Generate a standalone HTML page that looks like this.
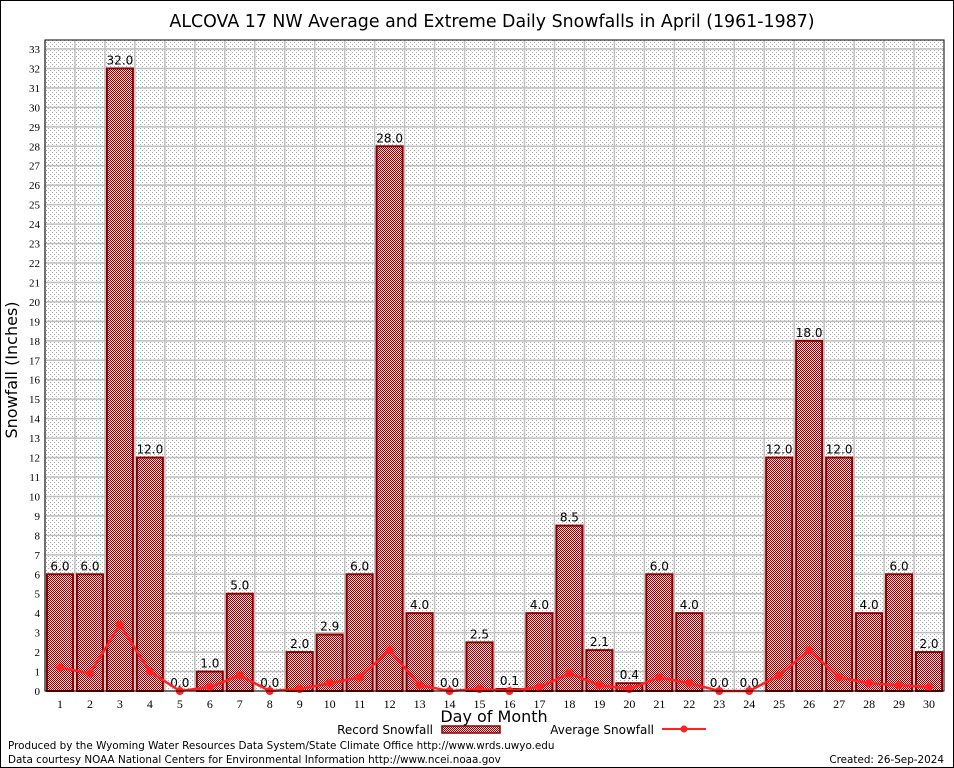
<!DOCTYPE html>
<html><head><meta charset="utf-8"><style>
body{margin:0;background:#fff;}
svg{display:block;font-family:"DejaVu Sans","Liberation Sans",sans-serif;}
</style></head><body>
<svg id="chart" width="954" height="768">
<defs>
<pattern id="hatch" width="2" height="2" patternUnits="userSpaceOnUse">
<rect width="2" height="2" fill="#f4dede"/><rect width="1" height="1" fill="#9a0000"/><rect x="1" y="1" width="1" height="1" fill="#9a0000"/>
</pattern>
<pattern id="minor" width="4" height="4" patternUnits="userSpaceOnUse">
<rect width="4" height="4" fill="#fff"/><rect width="1" height="1" fill="#aaa"/><rect x="2" y="2" width="1" height="1" fill="#aaa"/>
</pattern>
</defs>
<rect x="0.5" y="0.5" width="953" height="767" fill="none" stroke="#000"/>
<text x="492" y="27" font-size="17.4" text-anchor="middle">ALCOVA 17 NW Average and Extreme Daily Snowfalls in April (1961-1987)</text>
<g id="plot"></g>
<text transform="translate(17,370) rotate(-90)" font-size="16" text-anchor="middle">Snowfall (Inches)</text>
<text x="494" y="722" font-size="16" text-anchor="middle">Day of Month</text>
<g>
<text x="433" y="734" font-size="12" text-anchor="end">Record Snowfall</text>
<rect x="442" y="726" width="58" height="7" fill="url(#hatch)" stroke="#8b0000" stroke-width="1.5"/>
</g>
<g>
<text x="654" y="734" font-size="12" text-anchor="end">Average Snowfall</text>
<line x1="662" y1="729" x2="706" y2="729" stroke="#f22" stroke-width="2"/>
<circle cx="684" cy="729" r="3.5" fill="#f22"/>
</g>
<text x="8" y="749" font-size="10.4">Produced by the Wyoming Water Resources Data System/State Climate Office http://www.wrds.uwyo.edu</text>
<text x="8" y="763" font-size="10.4">Data courtesy NOAA National Centers for Environmental Information http://www.ncei.noaa.gov</text>
<text x="944" y="763" font-size="10.4" text-anchor="end">Created: 26-Sep-2024</text>
</svg>
<script>
const days=[1,2,3,4,5,6,7,8,9,10,11,12,13,14,15,16,17,18,19,20,21,22,23,24,25,26,27,28,29,30];
const recordValues=[6.0,6.0,32.0,12.0,0.0,1.0,5.0,0.0,2.0,2.9,6.0,28.0,4.0,0.0,2.5,0.1,4.0,8.5,2.1,0.4,6.0,4.0,0.0,0.0,12.0,18.0,12.0,4.0,6.0,2.0];
const averageValues=[1.2,0.9,3.4,1.0,0.0,0.2,0.8,0.0,0.1,0.4,0.7,2.1,0.3,0.0,0.1,0.0,0.2,0.9,0.3,0.1,0.7,0.4,0.0,0.0,0.8,2.1,0.7,0.4,0.3,0.2];
const yTicks=[0,1,2,3,4,5,6,7,8,9,10,11,12,13,14,15,16,17,18,19,20,21,22,23,24,25,26,27,28,29,30,31,32,33];
const X0=45,X1=944,Y0=691,Y1=49,YMAX=33;
const slot=(X1-X0)/days.length;
const xc=d=>X0+slot*(d-0.5);
const y=v=>Y0-(v/YMAX)*(Y0-Y1);
const NS="http://www.w3.org/2000/svg";
const g=document.getElementById('plot');
function mk(t,a,p){const e=document.createElementNS(NS,t);for(const k in a)e.setAttribute(k,a[k]);(p||g).appendChild(e);return e;}
const bg=mk('rect',{x:X0,y:40,width:X1-X0,height:Y0-40,fill:'url(#minor)'});


yTicks.forEach(t=>{
  const l=mk('line',{x1:X0,x2:X1,y1:y(t),y2:y(t),stroke:'#c0c0c0','stroke-width':1.5});
  
  
  const tx=mk('text',{x:X0-5,y:y(t)+4,'font-size':11,'text-anchor':'end','font-family':'Liberation Serif, serif'});
  tx.textContent=t;
  
  
});
days.forEach((d,i)=>{
  const gx=X0+slot*i;
  const l=mk('line',{x1:gx,x2:gx,y1:40,y2:Y0,stroke:'#c0c0c0','stroke-width':1.5});
  
  
  const tx=mk('text',{x:xc(d),y:Y0+17,'font-size':12,'text-anchor':'middle','font-family':'Liberation Serif, serif'});
  tx.textContent=d;
  
  
});
recordValues.forEach((v,i)=>{
  const d=days[i];
  if(v>0){
    const r=mk('rect',{x:xc(d)-13,y:y(v),width:26,height:Y0-y(v),fill:'url(#hatch)',stroke:'#8b0000','stroke-width':2});
    
    
  }
  const t=mk('text',{x:xc(d),y:y(v)-4,'font-size':12,'text-anchor':'middle'});
  t.textContent=v.toFixed(1);
  
  
});
const pts=averageValues.map((v,i)=>xc(days[i])+','+y(v)).join(' ');
const pl=mk('polyline',{points:pts,fill:'none',stroke:'#f22','stroke-width':2.5});


averageValues.forEach((v,i)=>{
  const c=mk('circle',{cx:xc(days[i]),cy:y(v),r:4,fill:'#f22'});
  
  
});
const fr=mk('rect',{x:X0,y:40,width:X1-X0,height:Y0-40,fill:'none',stroke:'#000','stroke-width':1});


</script>
</body></html>
